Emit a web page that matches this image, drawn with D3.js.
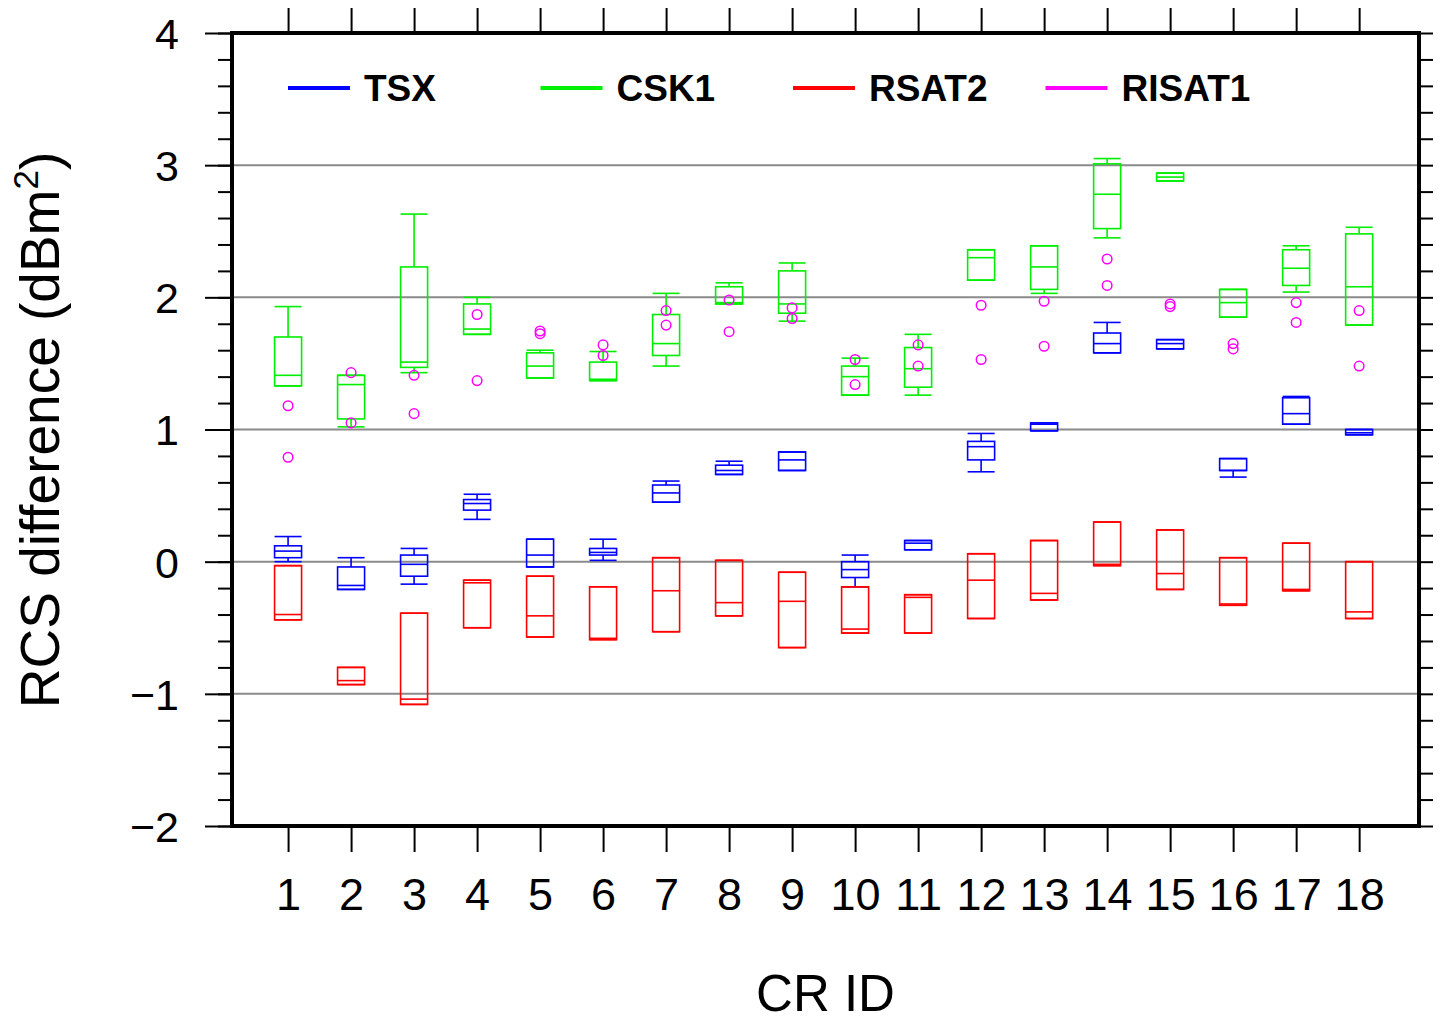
<!DOCTYPE html>
<html>
<head>
<meta charset="utf-8">
<script src="https://cdn.jsdelivr.net/npm/d3@7"></script>
<style>
  html, body { margin: 0; padding: 0; background: #fff; overflow: hidden; }
  svg { display: block; font-family: "Liberation Sans", Arial, sans-serif; }
</style>
</head>
<body>
<svg id="chart" width="1441" height="1023"></svg>
<script>
// CR ids on the x axis
const crIds = [1, 2, 3, 4, 5, 6, 7, 8, 9, 10, 11, 12, 13, 14, 15, 16, 17, 18];
const yTicks = [-2, -1, 0, 1, 2, 3, 4];

// per CR: [lower whisker, q1, median, q3, upper whisker]
const tsx = [
  [0.00, 0.03, 0.08, 0.12, 0.19],
  [-0.21, -0.21, -0.18, -0.04, 0.03],
  [-0.17, -0.11, -0.02, 0.05, 0.10],
  [0.32, 0.39, 0.44, 0.47, 0.51],
  [-0.04, -0.04, 0.05, 0.17, 0.17],
  [0.01, 0.05, 0.07, 0.10, 0.17],
  [0.45, 0.45, 0.52, 0.58, 0.61],
  [0.66, 0.66, 0.69, 0.73, 0.76],
  [0.69, 0.69, 0.77, 0.83, 0.83],
  [-0.19, -0.12, -0.06, 0.00, 0.05],
  [0.09, 0.09, 0.14, 0.16, 0.16],
  [0.68, 0.77, 0.87, 0.91, 0.97],
  [0.99, 0.99, 1.04, 1.05, 1.05],
  [1.58, 1.58, 1.65, 1.73, 1.81],
  [1.61, 1.61, 1.65, 1.68, 1.68],
  [0.64, 0.69, 0.69, 0.78, 0.78],
  [1.04, 1.04, 1.12, 1.24, 1.25],
  [0.96, 0.96, 0.975, 1.00, 1.00],
];
const csk1 = [
  [1.33, 1.33, 1.41, 1.70, 1.93],
  [1.02, 1.08, 1.34, 1.41, 1.41],
  [1.43, 1.47, 1.51, 2.23, 2.63],
  [1.72, 1.72, 1.76, 1.95, 2.00],
  [1.39, 1.39, 1.48, 1.58, 1.60],
  [1.37, 1.37, 1.38, 1.51, 1.59],
  [1.48, 1.56, 1.65, 1.87, 2.03],
  [1.95, 1.95, 1.96, 2.08, 2.11],
  [1.82, 1.88, 1.95, 2.20, 2.26],
  [1.26, 1.26, 1.40, 1.48, 1.54],
  [1.26, 1.32, 1.46, 1.62, 1.72],
  [2.13, 2.13, 2.30, 2.36, 2.36],
  [2.03, 2.06, 2.23, 2.39, 2.39],
  [2.45, 2.52, 2.78, 3.01, 3.05],
  [2.88, 2.88, 2.91, 2.94, 2.94],
  [1.85, 1.85, 1.96, 2.06, 2.06],
  [2.04, 2.09, 2.22, 2.36, 2.39],
  [1.79, 1.79, 2.08, 2.48, 2.53],
];
const rsat2 = [
  [-0.44, -0.44, -0.40, -0.03, -0.03],
  [-0.93, -0.93, -0.90, -0.80, -0.80],
  [-1.08, -1.08, -1.04, -0.39, -0.39],
  [-0.50, -0.50, -0.16, -0.14, -0.14],
  [-0.57, -0.57, -0.41, -0.11, -0.11],
  [-0.59, -0.59, -0.58, -0.19, -0.19],
  [-0.53, -0.53, -0.22, 0.03, 0.03],
  [-0.41, -0.41, -0.31, 0.01, 0.01],
  [-0.65, -0.65, -0.30, -0.08, -0.08],
  [-0.54, -0.54, -0.51, -0.19, -0.19],
  [-0.54, -0.54, -0.27, -0.25, -0.25],
  [-0.43, -0.43, -0.14, 0.06, 0.06],
  [-0.29, -0.29, -0.24, 0.16, 0.16],
  [-0.03, -0.03, -0.02, 0.30, 0.30],
  [-0.21, -0.21, -0.09, 0.24, 0.24],
  [-0.33, -0.33, -0.32, 0.03, 0.03],
  [-0.22, -0.22, -0.21, 0.14, 0.14],
  [-0.43, -0.43, -0.38, 0.00, 0.00],
];
// RISAT1 values (circles)
const risat1 = [
  [1.18, 0.79], [1.43, 1.05], [1.41, 1.12], [1.87, 1.37], [1.745, 1.725],
  [1.64, 1.56], [1.90, 1.79], [1.98, 1.74], [1.92, 1.84], [1.53, 1.34],
  [1.64, 1.48], [1.94, 1.53], [1.97, 1.63], [2.29, 2.09], [1.95, 1.93],
  [1.65, 1.61], [1.96, 1.81], [1.90, 1.48],
];

const legendItems = [
  { name: 'TSX', color: '#0000ff' },
  { name: 'CSK1', color: '#00ee00' },
  { name: 'RSAT2', color: '#ff0000' },
  { name: 'RISAT1', color: '#ff00ff' },
];

const margin = { top: 33, left: 232, bottom: 197, right: 22 };
const width = 1441, height = 1023;
const innerWidth = width - margin.left - margin.right;
const innerHeight = height - margin.top - margin.bottom;

const svg = d3.select('#chart');
const g = svg.append('g').attr('transform', `translate(${margin.left},${margin.top})`);

const x = d3.scaleLinear().domain([0.11, 18.95]).range([0, innerWidth]);
const y = d3.scaleLinear().domain([-2, 4]).range([innerHeight, 0]);

// grid lines
g.append('g')
  .selectAll('line')
  .data(yTicks.filter(d => d > -2 && d < 4))
  .join('line')
  .attr('x1', 0).attr('x2', innerWidth)
  .attr('y1', d => y(d)).attr('y2', d => y(d))
  .attr('stroke', '#8a8a8a').attr('stroke-width', 2);

// axes: ticks outside the frame
const minor = d3.range(-2, 4.001, 0.2);
const styleAxis = sel => {
  sel.attr('font-size', null).attr('font-family', null);
  sel.select('.domain').remove();
  sel.selectAll('.tick line').attr('stroke', '#000').attr('stroke-width', 2);
};
const noText = sel => sel.selectAll('text').remove();

g.append('g')
  .call(d3.axisLeft(y).tickValues(minor).tickSize(14))
  .call(styleAxis).call(noText);
g.append('g')
  .call(d3.axisLeft(y).tickValues(yTicks).tickSize(27).tickPadding(26).tickFormat(d => d < 0 ? '\u2212' + Math.abs(d) : d))
  .call(styleAxis)
  .selectAll('text')
  .attr('font-size', 43).attr('fill', '#000').attr('dy', '0.36em');

g.append('g')
  .attr('transform', `translate(${innerWidth},0)`)
  .call(d3.axisRight(y).tickValues(minor).tickSize(14))
  .call(styleAxis).call(noText);

g.append('g')
  .attr('transform', `translate(0,${innerHeight})`)
  .call(d3.axisBottom(x).tickValues(crIds).tickSize(26).tickPadding(26))
  .call(styleAxis)
  .selectAll('text')
  .attr('font-size', 45).attr('fill', '#000');

g.append('g')
  .call(d3.axisTop(x).tickValues(crIds).tickSize(25))
  .call(styleAxis).call(noText);

// boxes
const boxW = 27;
const drawBoxes = (data, color) => {
  const b = g.append('g')
    .attr('fill', 'none').attr('stroke', color).attr('stroke-width', 1.6)
    .selectAll('g')
    .data(data.map((d, i) => ({ id: crIds[i], s: d })))
    .join('g')
    .attr('transform', d => `translate(${x(d.id)},0)`);
  b.append('line')
    .attr('y1', d => y(d.s[4])).attr('y2', d => y(d.s[3]));
  b.append('line')
    .attr('y1', d => y(d.s[1])).attr('y2', d => y(d.s[0]));
  b.append('line')
    .attr('x1', -boxW / 2).attr('x2', boxW / 2)
    .attr('y1', d => y(d.s[4])).attr('y2', d => y(d.s[4]));
  b.append('line')
    .attr('x1', -boxW / 2).attr('x2', boxW / 2)
    .attr('y1', d => y(d.s[0])).attr('y2', d => y(d.s[0]));
  b.append('rect')
    .attr('x', -boxW / 2).attr('width', boxW)
    .attr('y', d => y(d.s[3])).attr('height', d => y(d.s[1]) - y(d.s[3]));
  b.append('line')
    .attr('x1', -boxW / 2).attr('x2', boxW / 2)
    .attr('y1', d => y(d.s[2])).attr('y2', d => y(d.s[2]));
};
drawBoxes(tsx, legendItems[0].color);
drawBoxes(csk1, legendItems[1].color);
drawBoxes(rsat2, legendItems[2].color);

// RISAT1 circles
g.append('g')
  .selectAll('circle')
  .data(risat1.flatMap((vals, i) => vals.map(v => ({ id: crIds[i], v }))))
  .join('circle')
  .attr('cx', d => x(d.id)).attr('cy', d => y(d.v)).attr('r', 4.8)
  .attr('fill', 'none').attr('stroke', legendItems[3].color).attr('stroke-width', 1.5);

// frame
g.append('rect')
  .attr('width', innerWidth).attr('height', innerHeight)
  .attr('fill', 'none').attr('stroke', '#000').attr('stroke-width', 4);

// legend
const legend = g.append('g')
  .selectAll('g')
  .data(legendItems)
  .join('g')
  .attr('transform', (d, i) => `translate(${56 + i * 252.5},55)`);
legend.append('line')
  .attr('x1', 0).attr('x2', 62)
  .attr('stroke', d => d.color).attr('stroke-width', 4);
legend.append('text')
  .attr('x', 76).attr('dy', '0.36em')
  .attr('font-size', 37).attr('font-weight', 'bold')
  .text(d => d.name);

// axis titles
svg.append('text')
  .attr('x', margin.left + innerWidth / 2).attr('y', 1011)
  .attr('text-anchor', 'middle').attr('font-size', 51)
  .text('CR ID');

const yTitle = svg.append('text')
  .attr('transform', 'translate(59,430) rotate(-90)')
  .attr('text-anchor', 'middle').attr('font-size', 55);
yTitle.append('tspan').text('RCS difference (dBm');
yTitle.append('tspan').attr('dy', -21).attr('font-size', 35).text('2');
yTitle.append('tspan').attr('dy', 21).text(')');
</script>
</body>
</html>
